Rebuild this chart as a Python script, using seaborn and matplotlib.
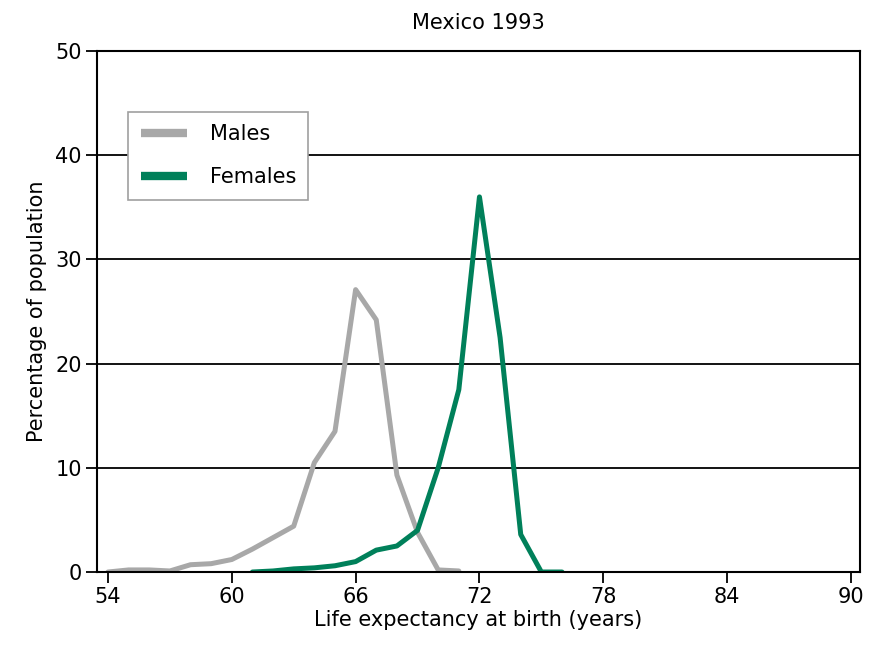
import numpy as np
import pandas as pd
import matplotlib
matplotlib.use('Agg')
import matplotlib.pyplot as plt
import seaborn as sns

# values
male_years = [54, 55, 56, 57, 58, 59, 60, 61, 62, 63, 64, 65, 66, 67, 68, 69, 70, 71]
male_pct = [0.0, 0.2, 0.2, 0.1, 0.7, 0.8, 1.2, 2.2, 3.3, 4.4, 10.5, 13.5, 27.1, 24.2, 9.3, 3.8, 0.2, 0.1]

female_years = [61, 62, 63, 64, 65, 66, 67, 68, 69, 70, 71, 72, 73, 74, 75, 76]
female_pct = [0.0, 0.1, 0.3, 0.4, 0.6, 1.0, 2.1, 2.5, 4.0, 10.0, 17.5, 36.0, 22.5, 3.6, 0.0, 0.0]

x_ticks = [54, 60, 66, 72, 78, 84, 90]
y_ticks = [0, 10, 20, 30, 40, 50]

df = pd.concat([
    pd.DataFrame({'year': male_years, 'pct': male_pct, 'sex': 'Males'}),
    pd.DataFrame({'year': female_years, 'pct': female_pct, 'sex': 'Females'}),
], ignore_index=True)

sns.set_style('white')
plt.rcParams['font.family'] = ['DejaVu Sans']
plt.rcParams['text.color'] = 'black'
plt.rcParams['axes.labelcolor'] = 'black'
plt.rcParams['xtick.color'] = 'black'
plt.rcParams['ytick.color'] = 'black'

fig = plt.figure(figsize=(8.86, 6.59), dpi=100)
ax = fig.add_axes([0.1095, 0.132, 0.8612, 0.7906])

# grid behind the lines
for y in y_ticks[1:-1]:
    ax.axhline(y, color='black', lw=1.3, zorder=0)

sns.lineplot(data=df, x='year', y='pct', hue='sex',
             palette={'Males': '#a8a8a8', 'Females': '#00805a'},
             lw=3.6, ax=ax, zorder=2)

ax.set_xlim(53.47, 90.44)
ax.set_ylim(0, 50)
ax.set_xticks(x_ticks)
ax.set_yticks(y_ticks)
ax.tick_params(direction='out', length=8, width=1.3, color='black',
               labelsize=15, pad=3, bottom=True, left=True)
for s in ax.spines.values():
    s.set_color('black')
    s.set_linewidth(1.5)

ax.set_title('Mexico 1993', fontsize=15, pad=16)
ax.set_xlabel('Life expectancy at birth (years)', fontsize=15, labelpad=2)
ax.set_ylabel('Percentage of population', fontsize=15, labelpad=6)

leg = ax.legend(loc='upper left', bbox_to_anchor=(0.041, 0.883), borderaxespad=0,
                fontsize=15, frameon=True, fancybox=False, handlelength=2.2,
                handletextpad=1.1, borderpad=0.6, labelspacing=1.1)
leg.get_frame().set_edgecolor('#a0a0a0')
leg.get_frame().set_linewidth(1.2)
leg.get_frame().set_alpha(1)
for h in leg.get_lines():
    h.set_linewidth(6)
    h.set_solid_capstyle('butt')

fig.savefig('out.png', dpi=100)
